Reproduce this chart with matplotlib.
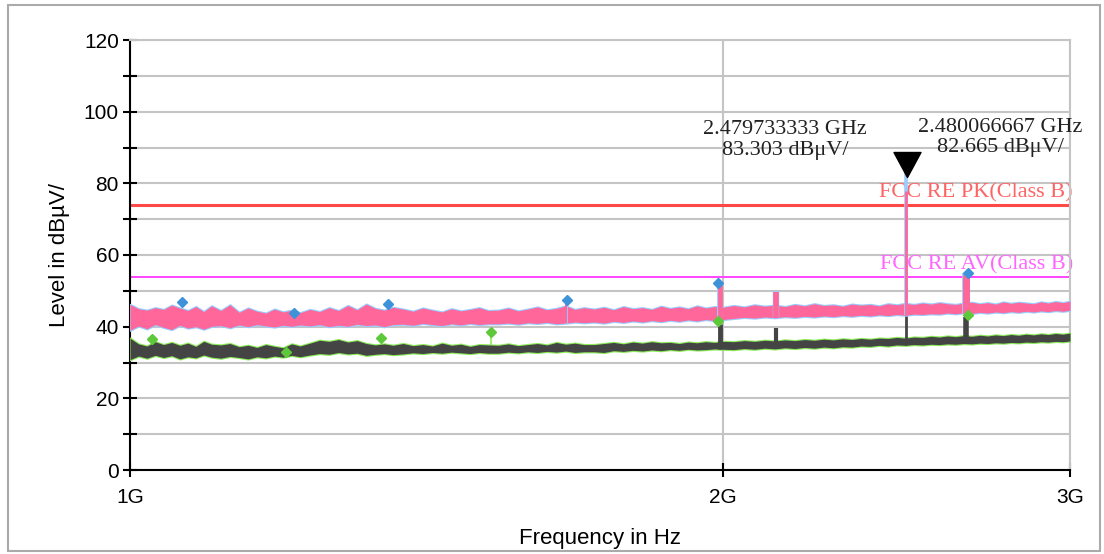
import numpy as np
import matplotlib
matplotlib.use("Agg")
import matplotlib.pyplot as plt
from matplotlib.patches import Rectangle
from matplotlib.path import Path
import matplotlib.transforms as mtransforms

plt.rcParams['font.family'] = ['Liberation Sans', 'DejaVu Sans']

# frequency grid of the readings (GHz)
freq_ghz = [1.000, 1.010, 1.020, 1.030, 1.040, 1.050, 1.060, 1.070, 1.080, 1.090, 1.100,
            1.112, 1.124, 1.136, 1.148, 1.160, 1.172, 1.184, 1.196, 1.208, 1.220,
            1.234, 1.248, 1.262, 1.276, 1.290, 1.304, 1.318, 1.332, 1.346, 1.360,
            1.376, 1.392, 1.408, 1.424, 1.440, 1.456, 1.472, 1.488, 1.504, 1.520,
            1.538, 1.556, 1.574, 1.592, 1.610, 1.628, 1.646, 1.664, 1.682, 1.700,
            1.72, 1.74, 1.76, 1.78, 1.80, 1.82, 1.84, 1.86, 1.88, 1.90, 1.92, 1.94, 1.96, 1.98, 2.00,
            2.025, 2.050, 2.075, 2.100, 2.125, 2.150, 2.175, 2.200, 2.225, 2.250,
            2.275, 2.300, 2.325, 2.350, 2.375, 2.400, 2.425, 2.450, 2.475, 2.500,
            2.525, 2.550, 2.575, 2.600, 2.625, 2.650, 2.675, 2.700, 2.725, 2.750,
            2.775, 2.800, 2.825, 2.850, 2.875, 2.900, 2.925, 2.950, 2.975, 3.000]

# peak trace, upper / lower edge of the noise band (dBuV)
pk_upper = [46.2, 45.0, 44.6, 45.3, 44.8, 46.0, 45.2, 44.5, 45.6, 44.2, 45.8,
            44.5, 46.1, 44.0, 45.2, 44.3, 43.8, 44.9, 44.1, 44.6, 43.9,
            44.8, 44.2, 45.3, 44.5, 45.9, 44.7, 46.3, 45.1, 44.6, 45.4,
            44.9, 44.3, 45.2, 44.6, 44.1, 45.0, 44.4, 44.8, 45.3, 44.5,
            44.6, 45.2, 44.4, 44.9, 45.5, 44.7, 45.1, 45.8, 44.8, 45.3,
            44.9, 45.4, 44.7, 45.6, 45.0, 45.3, 44.8, 45.7, 45.1, 45.5, 45.0, 45.8, 45.2, 45.6, 45.4,
            45.9, 45.5, 46.1, 45.7, 46.0, 45.6, 46.2, 45.8, 46.4, 45.9,
            46.1, 45.7, 46.3, 46.0, 46.2, 45.8, 46.4, 46.1, 46.5, 46.2,
            46.6, 46.3, 46.7, 46.4, 46.2, 46.6, 46.8, 46.4, 46.7, 46.3,
            46.9, 46.5, 46.8, 46.6, 46.4, 46.9, 46.6, 47.0, 46.7, 47.1]
pk_lower = [39.0, 40.2, 39.4, 40.6, 39.8, 39.2, 40.4, 39.6, 40.0, 39.3, 40.1,
            40.3, 39.7, 40.5, 40.0, 40.6, 40.2, 39.9, 40.4, 40.1, 40.5,
            40.2, 40.6, 40.0, 40.4, 40.1, 40.7, 40.3, 40.5, 40.0, 40.6,
            40.7, 40.4, 40.9, 40.6, 40.3, 40.8, 40.5, 40.9, 40.6, 40.8,
            40.8, 41.0, 40.7, 41.1, 40.9, 41.2, 40.8, 41.0, 41.3, 41.1,
            41.3, 41.0, 41.5, 41.2, 41.6, 41.3, 41.7, 41.4, 41.8, 41.5, 41.9, 41.6, 42.0, 41.7, 42.0,
            42.3, 42.6, 42.4, 42.7, 42.5, 42.8, 42.6, 42.9, 42.7, 43.0,
            42.8, 43.1, 42.9, 43.2, 43.0, 43.3, 43.1, 43.4, 43.2, 43.5,
            43.4, 43.6, 43.5, 43.8, 43.6, 43.9, 43.7, 44.0, 43.8, 44.1,
            43.9, 44.2, 44.0, 44.3, 44.1, 44.4, 44.2, 44.5, 44.3, 44.6]

# average trace, upper / lower edge of the noise band (dBuV)
av_upper = [36.8, 35.2, 34.6, 35.8, 35.0, 35.6, 34.8, 35.4, 34.5, 35.9, 35.1,
            34.9, 35.3, 34.4, 34.8, 34.2, 35.0, 34.5, 34.1, 35.2, 34.6,
            35.4, 36.2, 35.9, 36.4, 35.7, 36.1, 35.3, 34.9, 35.2, 34.8,
            35.3, 34.7, 35.0, 34.6, 35.4, 34.8, 35.1, 34.5, 35.0, 34.9,
            34.8, 35.2, 34.7, 35.0, 35.3, 34.9, 35.6, 35.1, 35.4, 35.0,
            35.0, 35.3, 35.6, 35.2, 35.7, 35.4, 35.8, 35.5, 35.6, 35.3, 35.7, 35.5, 35.8, 35.6, 35.9,
            35.8, 36.1, 35.9, 36.2, 36.0, 36.3, 36.1, 36.4, 36.2, 36.5,
            36.3, 36.6, 36.4, 36.7, 36.5, 36.8, 36.7, 37.0, 36.8, 37.1,
            37.0, 37.3, 37.1, 37.4, 37.2, 37.5, 37.3, 37.6, 37.4, 37.7,
            37.5, 37.8, 37.6, 37.9, 37.7, 38.0, 37.8, 38.1, 37.9, 38.2]
av_lower = [30.8, 31.8, 31.2, 32.0, 31.4, 31.9, 31.0, 31.6, 31.3, 32.1, 31.5,
            31.2, 31.7, 31.4, 31.0, 31.6, 31.3, 31.8, 31.5, 32.0, 31.6,
            32.1, 32.5, 32.3, 32.8, 32.4, 32.6, 32.0, 32.3, 32.5, 32.2,
            32.4, 32.7, 32.5, 32.8, 32.6, 32.9, 32.7, 32.5, 32.8, 32.6,
            32.6, 32.9, 32.7, 33.0, 32.8, 33.1, 32.9, 33.2, 32.8, 33.0,
            33.0, 32.8, 33.3, 33.1, 33.4, 33.2, 33.5, 33.3, 33.6, 33.4, 33.7, 33.5, 33.6, 33.8, 33.7,
            33.6, 33.9, 33.7, 34.0, 33.8, 34.1, 33.9, 34.2, 34.0, 34.3,
            34.1, 34.4, 34.3, 34.6, 34.5, 34.8, 34.6, 34.9, 34.8, 35.0,
            34.9, 35.1, 35.0, 35.2, 35.1, 35.3, 35.2, 35.4, 35.3, 35.5,
            35.4, 35.6, 35.5, 35.7, 35.6, 35.8, 35.7, 35.9, 35.8, 36.0]

# narrow emissions sticking out of the noise
pk_spike_freq = [1.664, 1.992, 2.128, 2.478, 2.658]
pk_spike_level = [46.8, 51.5, 49.7, 78.0, 54.5]
pk_max_spike_level = [47.4, 52.2, 49.9, 83.3, 55.0]
av_spike_freq = [1.992, 2.128, 2.478, 2.658]
av_spike_level = [40.8, 39.6, 44.5, 42.6]
av_max_spike_freq = [1.525, 1.992, 2.658]
av_max_spike_level = [38.5, 41.6, 43.3]

# final measurement points
pk_mark_freq = [1.063, 1.211, 1.352, 1.666, 1.988, 2.664]
pk_mark_level = [46.9, 43.8, 46.3, 47.4, 52.2, 55.0]
av_mark_freq = [1.026, 1.200, 1.341, 1.525, 1.988, 2.664]
av_mark_level = [36.6, 32.9, 36.8, 38.5, 41.6, 43.3]

# limits
limit_pk = 74.0
limit_av = 54.0
limit_pk_name = "FCC RE PK(Class B)"
limit_av_name = "FCC RE AV(Class B)"

# markers
marker_freq = [2.479733333, 2.480066667]
marker_level = [83.303, 82.665]

x_ticks = [1, 2, 3]
x_tick_labels = ["1G", "2G", "3G"]

f = np.array(freq_ghz) * 1e9

fig = plt.figure(figsize=(11.04, 5.54), dpi=100)
ax = fig.add_axes([130 / 1104, 84 / 554, 940 / 1104, 430 / 554])
ax.set_xscale('log')
ax.set_xlim(1e9, 3e9)
ax.set_ylim(0, 120)

grid_c = '#C4C4C4'
ax.set_axisbelow(True)
ax.set_yticks(np.arange(0, 121, 20))
ax.set_yticks(np.arange(10, 120, 20), minor=True)
ax.set_xticks([t * 1e9 for t in x_ticks])
ax.set_xticklabels(x_tick_labels)
ax.xaxis.set_minor_locator(plt.NullLocator())
ax.grid(True, which='both', axis='y', color=grid_c, lw=1.5)
ax.grid(True, which='major', axis='x', color=grid_c, lw=1.5)
ax.tick_params(axis='y', which='both', direction='inout', length=10, width=1.5,
               labelsize=15, pad=3, color='black')
ax.tick_params(axis='x', which='major', direction='inout', length=10, width=1.5,
               labelsize=15, pad=8, color='black')
for s in ['left', 'bottom']:
    ax.spines[s].set_linewidth(1.5)
    ax.spines[s].set_color('black')
for s in ['top', 'right']:
    ax.spines[s].set_linewidth(1.5)
    ax.spines[s].set_color(grid_c)

# limit lines
trans = mtransforms.blended_transform_factory(ax.transAxes, ax.transData)
ax.axhline(limit_pk, color='#FF4848', lw=2.2, zorder=2)
ax.axhline(limit_av, color='#FF44FF', lw=1.4, zorder=2)
lab_font = dict(family=['Liberation Serif', 'DejaVu Serif'], fontsize=16)
ax.text(1.003, limit_pk + 0.6, limit_pk_name, transform=trans, ha='right', va='bottom',
        color='#FF6464', zorder=2, clip_on=False, **lab_font)
ax.text(1.003, limit_av + 0.6, limit_av_name, transform=trans, ha='right', va='bottom',
        color='#FF66FF', zorder=2, clip_on=False, **lab_font)

# average traces
ax.fill_between(f, np.array(av_lower), np.array(av_upper),
                color='#8CEB5A', ec='#8CEB5A', lw=1.6, zorder=3.0)
ax.fill_between(f, np.array(av_lower), np.array(av_upper),
                color='#444444', lw=0, zorder=3.1)
sf = np.array(av_max_spike_freq) * 1e9
ax.vlines(sf, np.interp(sf, f, av_upper), av_max_spike_level, color='#8CEB5A', lw=1.2, zorder=3.05)
sf = np.array(av_spike_freq) * 1e9
ax.vlines(sf, np.interp(sf, f, av_lower), av_spike_level, color='#444444',
          lw=[3.5, 3.0, 2.0, 4.0], zorder=3.2)

# peak traces
ax.fill_between(f, np.array(pk_lower), np.array(pk_upper),
                color='#99CCFF', ec='#99CCFF', lw=1.6, zorder=3.5)
ax.fill_between(f, np.array(pk_lower), np.array(pk_upper),
                color='#FF6699', lw=0, zorder=3.6)
sf = np.array(pk_spike_freq) * 1e9
base = np.interp(sf, f, pk_lower)
ax.vlines(sf, base, pk_max_spike_level, color='#99CCFF',
          lw=[2.0, 4.2, 4.6, 2.6, 5.6], zorder=3.7)
ax.vlines(sf, base, pk_spike_level, color='#FF6699',
          lw=[1.4, 3.4, 4.0, 2.0, 5.0], zorder=3.8)

# final measurement points
ax.plot(np.array(pk_mark_freq) * 1e9, pk_mark_level, 'D', ms=5.5, color='#3D92DA',
        mec='#3D92DA', zorder=5, clip_on=False)
ax.plot(np.array(av_mark_freq) * 1e9, av_mark_level, 'D', ms=5.5, color='#5CC83A',
        mec='#5CC83A', zorder=5, clip_on=False)

# marker triangle with its tip on the measured level
tri = Path([(0, 0), (-1.08, 2), (1.08, 2), (0, 0)],
           [Path.MOVETO, Path.LINETO, Path.LINETO, Path.CLOSEPOLY])
ax.plot(marker_freq[0] * 1e9, marker_level[0] - 1.5, marker=tri, ms=36, color='black',
        zorder=6, ls='none')

ann_font = dict(family=['Liberation Serif', 'DejaVu Serif'], fontsize=16, color='#222222')
for xa, ya, fr, lv in [(0.697, 0.767, marker_freq[0], marker_level[0]),
                       (0.926, 0.773, marker_freq[1], marker_level[1])]:
    ax.text(xa, ya, f"{fr:.9f} GHz\n{lv:.3f} dBμV/", transform=ax.transAxes,
            ha='center', va='center', multialignment='center', linespacing=1.1,
            clip_on=False, zorder=6, **ann_font)

ax.set_xlabel("Frequency in Hz", fontsize=16)
ax.set_ylabel("Level in dBµV/", fontsize=16)
ax.xaxis.set_label_coords(0.5, -0.135)
ax.yaxis.set_label_coords(-0.064, 0.5)

fig.add_artist(Rectangle((8 / 1104, 3 / 554), 1092 / 1104, 546 / 554, transform=fig.transFigure,
                         fill=False, ec='#AAAAAA', lw=1.5))

fig.savefig("out.png", dpi=100)
